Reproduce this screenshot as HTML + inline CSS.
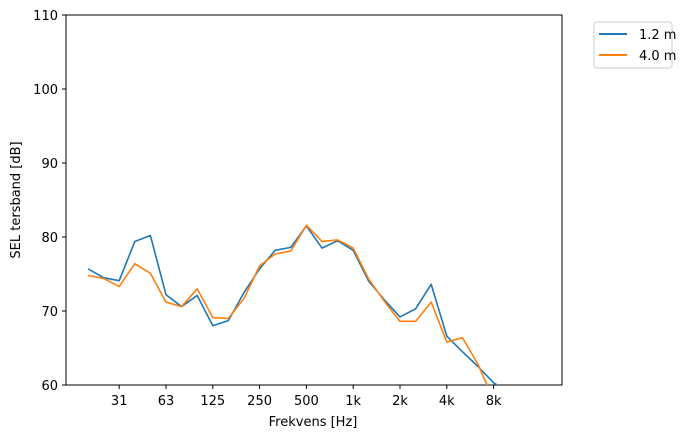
<!DOCTYPE html>
<html><head><meta charset="utf-8"><style>
body{margin:0;background:#fff;font-family:"Liberation Sans","DejaVu Sans",sans-serif;}
text{font-family:"DejaVu Sans","Liberation Sans",sans-serif;font-size:13px;fill:#000}
</style></head><body>
<svg id="chart" width="693" height="438" viewBox="0 0 693 438" xmlns="http://www.w3.org/2000/svg">
<defs><clipPath id="pc"><rect x="66" y="15" width="496" height="370"/></clipPath></defs>
<rect x="66" y="15" width="496" height="370" fill="#fff" stroke="#000" stroke-width="1"/>
<g id="axes"></g>
<g id="lines" clip-path="url(#pc)"></g>
<text x="313" y="426" text-anchor="middle">Frekvens [Hz]</text>
<text transform="translate(20,200) rotate(-90)" text-anchor="middle">SEL tersband [dB]</text>
<g>
<rect x="594" y="22" width="78" height="46" rx="3" fill="#fff" stroke="#ccc"/>
<g><line x1="599" y1="34" x2="627" y2="34" stroke="#1f77b4" stroke-width="2"/><text x="639" y="39">1.2 m</text></g>
<g><line x1="599" y1="55" x2="627" y2="55" stroke="#ff7f0e" stroke-width="2"/><text x="639" y="60">4.0 m</text></g>
</g>
</svg>
<script>
const bandIndex=[0,1,2,3,4,5,6,7,8,9,10,11,12,13,14,15,16,17,18,19,20,21,22,23,24,25,26,27];
const series12=[75.7,74.5,74.1,79.4,80.2,72.2,70.6,72.1,68.0,68.7,72.5,75.7,78.2,78.6,81.5,78.5,79.5,78.2,74.0,71.5,69.2,70.3,73.6,66.6,64.5,62.5,60.3,59.0];
const series40=[74.8,74.4,73.3,76.4,75.1,71.2,70.6,73.0,69.1,69.0,71.7,76.1,77.7,78.1,81.6,79.4,79.6,78.5,74.3,71.3,68.6,68.6,71.2,65.8,66.4,62.8,58.0,56.0];
const xTickLabels=["31","63","125","250","500","1k","2k","4k","8k"];
const xTickIdx=[2,5,8,11,14,17,20,23,26];
const yTicks=[60,70,80,90,100,110];
const NS="http://www.w3.org/2000/svg";
const xs=i=>88+i*15.6;
const ys=v=>385-(v-60)*7.4;
const axes=document.getElementById('axes');
const lines=document.getElementById('lines');
function mk(t,a,p){const e=document.createElementNS(NS,t);for(const k in a)e.setAttribute(k,a[k]);p.appendChild(e);return e;}
yTicks.forEach(v=>{
 const g=mk('g',{},axes);
 
 
 mk('line',{x1:62,x2:66,y1:ys(v),y2:ys(v),stroke:'#000'},g);
 const t=mk('text',{x:58,y:ys(v)+5,'text-anchor':'end'},g);t.textContent=v;
});
xTickLabels.forEach((l,k)=>{
 const g=mk('g',{},axes);
 
 
 const x=xs(xTickIdx[k]);
 mk('line',{x1:x,x2:x,y1:385,y2:389,stroke:'#000'},g);
 const t=mk('text',{x:x,y:405,'text-anchor':'middle'},g);t.textContent=l;
});
function draw(arr,c,name){
 const p=mk('polyline',{points:arr.map((v,i)=>xs(bandIndex[i])+','+ys(v)).join(' '),fill:'none',stroke:c,'stroke-width':1.6,'stroke-linejoin':'round'},lines);
 
 
}
draw(series12,'#1f77b4','line-1.2m');
draw(series40,'#ff7f0e','line-4.0m');
</script>
</body></html>
